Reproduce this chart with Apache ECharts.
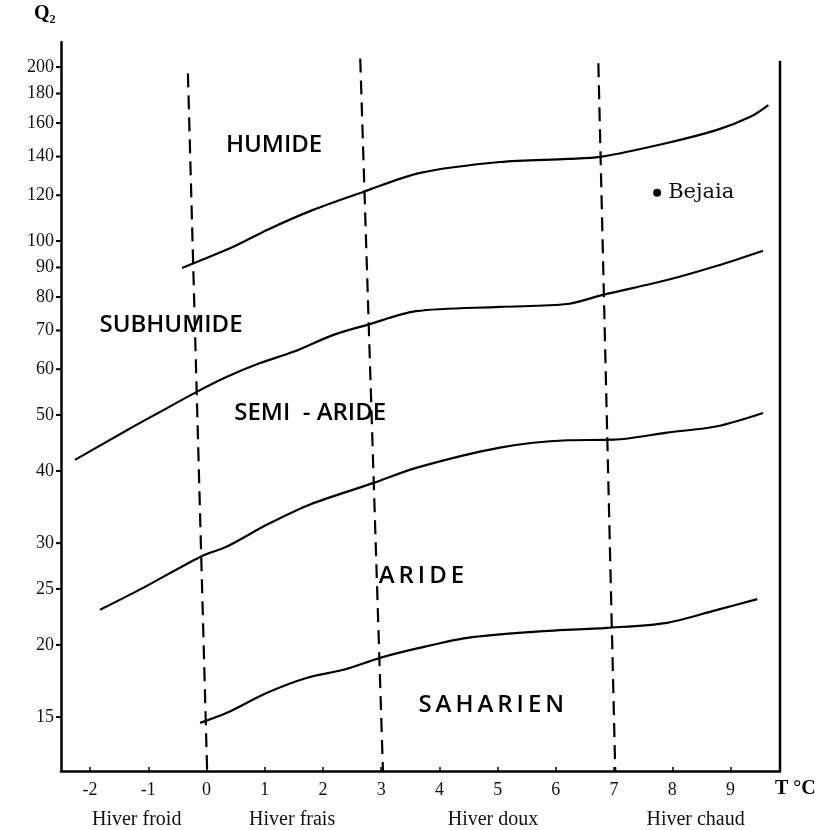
<!DOCTYPE html>
<html><head><meta charset="utf-8">
<script src="https://cdn.jsdelivr.net/npm/echarts@6/dist/echarts.min.js"></script>
<style>html,body{margin:0;padding:0;background:#fff}#c{width:821px;height:830px}</style>
</head><body><div id="c"></div>
<script>
// ---- axes ----
const X_MIN = -2.5, X_MAX = 9.85;
const Y_MIN = 12.1, Y_MAX = 221;
const xTicks = [-2, -1, 0, 1, 2, 3, 4, 5, 6, 7, 8, 9];
const yTicks = [15, 20, 25, 30, 40, 50, 60, 70, 80, 90, 100, 120, 140, 160, 180, 200];

// ---- bioclimatic limits (T °C, Q2) ----
const humideLimit = [[-0.42,89.8],[-0.2,91.7],[0.46,97.7],[1.04,104.5],[1.83,113.2],[2.69,121.6],[3.67,131.2],[5.04,137.0],[6.2,138.7],[6.76,139.8],[7.91,147.8],[8.77,155.7],[9.34,164.0],[9.65,171.9]];
const subhumideLimit = [[-2.26,41.8],[-1.36,47.1],[-0.8,50.6],[-0.2,54.6],[0.35,58.2],[0.92,61.5],[1.49,64.3],[2.18,68.8],[2.76,71.6],[3.6,75.6],[5.04,76.9],[6.2,77.8],[6.81,80.7],[7.91,85.6],[8.77,90.6],[9.56,96.2]];
const semiAridLimit = [[-1.83,23.0],[-1.09,25.1],[-0.11,28.4],[0.35,29.6],[1.04,32.3],[1.78,35.0],[2.86,38.1],[3.6,40.5],[5.04,43.9],[6.2,45.2],[6.99,45.3],[7.91,46.6],[8.77,47.8],[9.56,50.4]];
const aridLimit = [[-0.11,14.66],[0.35,15.26],[1.04,16.53],[1.73,17.55],[2.35,18.11],[2.98,18.99],[3.6,19.7],[4.48,20.57],[5.61,21.07],[6.88,21.41],[7.91,21.84],[8.77,23.0],[9.46,24.0]];

// ---- winter type dividers (top point, bottom point) ----
const dividerTop = [[-0.32,195],[2.64,207],[6.73,203]];
const dividerBottomX = [0.01, 3.03, 7.02];

// ---- labels ----
const winterNames = ['Hiver froid', 'Hiver frais', 'Hiver doux', 'Hiver chaud'];
const winterCenters = [-1.2, 1.47, 4.92, 8.4];
const zoneNames = ['HUMIDE', 'SUBHUMIDE', 'SEMI  - ARIDE', 'A\u2009R\u2009I\u2009D\u2009E', 'S\u2009A\u2009H\u2009A\u2009R\u2009I\u2009E\u2009N'];
const zonePos = [[1.16,146.7],[-0.61,71.6],[1.78,50.4],[3.69,26.3],[4.89,15.75]];
const stationName = 'Bejaia';
const stationPoint = [7.74, 121.2];

const INK = '#000';
const SERIF = '"Liberation Serif", "DejaVu Serif", serif';
const SANS = '"Open Sans", "Lato", sans-serif';

const curveStyle = (name, data) => ({
  name, type: 'line', data, smooth: 0.3, showSymbol: false, symbol: 'none',
  lineStyle: { color: INK, width: 2.2 }, silent: true, z: 3
});

const dividerSeries = dividerTop.map((top, i) => ({
  type: 'line', data: [top, [dividerBottomX[i], Y_MIN]], showSymbol: false, symbol: 'none',
  lineStyle: { color: INK, width: 2.2, type: [14, 8] }, silent: true, z: 2
}));

const chart = echarts.init(document.getElementById('c'), null, { renderer: 'canvas' });
chart.setOption({
  animation: false,
  backgroundColor: '#fff',
  grid: { left: 61, right: 41, top: 42, bottom: 59, containLabel: false },
  xAxis: {
    type: 'value', min: X_MIN, max: X_MAX,
    axisLine: { show: true, onZero: false, lineStyle: { color: INK, width: 2.5 } },
    axisTick: { show: true, inside: true, length: 4, customValues: xTicks, lineStyle: { color: INK, width: 1.5 } },
    axisLabel: { show: true, customValues: xTicks, margin: 10, fontFamily: SERIF, fontSize: 18, color: '#111' },
    splitLine: { show: false }
  },
  yAxis: {
    type: 'log', logBase: 10, min: Y_MIN, max: Y_MAX,
    axisLine: { show: true, onZero: false, lineStyle: { color: INK, width: 2.5 } },
    axisTick: { show: false }, axisLabel: { show: false }, splitLine: { show: false }
  },
  graphic: [
    { type: 'text', left: 34, top: 4, style: { text: 'Q₂', font: 'bold 20px ' + SERIF, fill: INK } },
    { type: 'text', left: 775, top: 779, style: { text: 'T °C', font: 'bold 20px ' + SERIF, fill: INK } }
  ],
  series: [
    curveStyle('Humide', humideLimit),
    curveStyle('Subhumide', subhumideLimit),
    curveStyle('Semi-aride', semiAridLimit),
    curveStyle('Aride', aridLimit),
    ...dividerSeries,
    {
      // right frame
      type: 'line', data: [[X_MAX, Y_MIN], [X_MAX, 205]], showSymbol: false, symbol: 'none', clip: false,
      lineStyle: { color: INK, width: 2.5 }, silent: true
    },
    {
      // y ticks and labels
      type: 'custom', clip: false, silent: true,
      data: yTicks.map(v => [X_MIN, v]),
      renderItem(params, api) {
        const p = api.coord([api.value(0), api.value(1)]);
        return { type: 'group', children: [
          { type: 'line', shape: { x1: p[0] - 5, y1: p[1], x2: p[0], y2: p[1] }, style: { stroke: INK, lineWidth: 2 } },
          { type: 'text', x: p[0] - 7, y: p[1], style: { text: String(api.value(1)), textAlign: 'right', textVerticalAlign: 'middle', font: '18px ' + SERIF, fill: '#111' } }
        ]};
      }
    },
    {
      // winter types under the axis
      type: 'custom', clip: false, silent: true,
      data: winterCenters.map((x, i) => [x, Y_MIN, i]),
      renderItem(params, api) {
        const p = api.coord([api.value(0), api.value(1)]);
        return { type: 'text', x: p[0], y: p[1] + 49, style: { text: winterNames[api.value(2)], textAlign: 'center', textVerticalAlign: 'middle', font: '20px ' + SERIF, fill: '#111' } };
      }
    },
    {
      // zone names
      type: 'scatter', symbolSize: 0, silent: true, z: 4,
      itemStyle: { opacity: 1 },
      data: zonePos.map((p, i) => ({ value: p, name: zoneNames[i] })),
      label: { show: true, position: 'inside', formatter: '{b}', fontFamily: SANS, fontWeight: 600, fontSize: 24, color: '#000' }
    },
    {
      // station
      type: 'scatter', symbol: 'circle', symbolSize: 8, silent: true, z: 5,
      itemStyle: { color: INK, opacity: 1 },
      data: [{ value: stationPoint, name: stationName }],
      label: { show: true, position: 'right', distance: 7, formatter: '{b}', fontFamily: '"DejaVu Serif", serif', fontSize: 21, color: '#111' }
    }
  ]
});
</script></body></html>
